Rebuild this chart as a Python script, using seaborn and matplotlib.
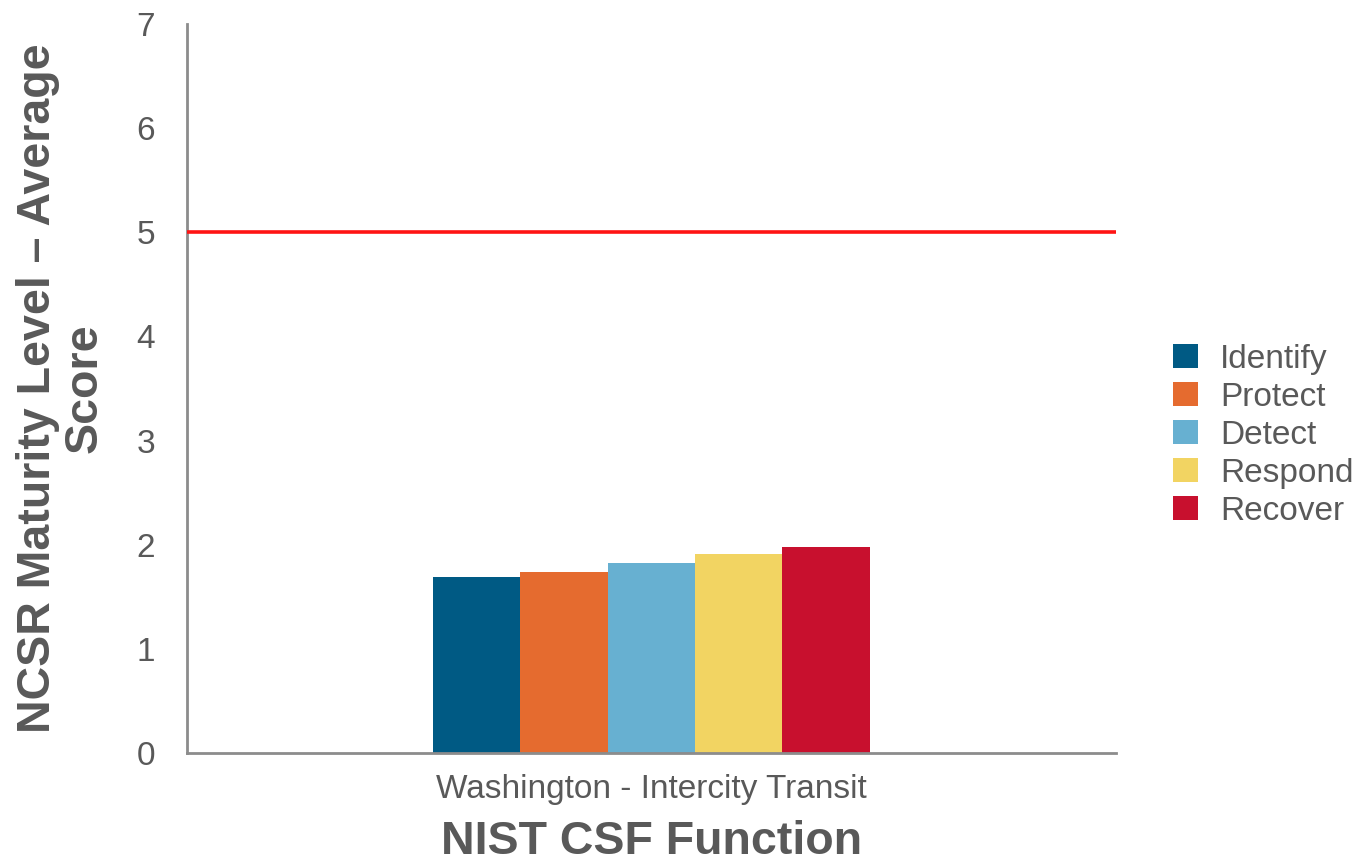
import matplotlib
matplotlib.use("Agg")
import matplotlib.pyplot as plt
import seaborn as sns
import pandas as pd

# Average NCSR maturity scores per NIST CSF function
agency = ["Washington - Intercity Transit"]
functions = ["Identify", "Protect", "Detect", "Respond", "Recover"]
scores = [1.69, 1.74, 1.82, 1.91, 1.98]
target_score = 5
colors = ["#005A84", "#E56B2F", "#67B0D1", "#F2D462", "#C8102E"]
y_ticks = [0, 1, 2, 3, 4, 5, 6, 7]

df = pd.DataFrame({
    "agency": agency * len(functions),
    "function": functions,
    "score": scores,
})

sns.set_theme(style="white")
plt.rcParams["font.family"] = ["Liberation Sans", "DejaVu Sans"]

fig = plt.figure(figsize=(13.55, 8.66), dpi=100)
ax = fig.add_axes([0.138, 0.1305, 0.6856, 0.8418])

sns.barplot(data=df, x="agency", y="score", hue="function",
            hue_order=functions, palette=colors, width=0.47,
            saturation=1, ax=ax, edgecolor="none")

ax.axhline(target_score, color="#FF1414", lw=2.6, zorder=3)

ax.set_xlim(-0.5, 0.5)
ax.set_ylim(0, 7)
ax.set_yticks(y_ticks)
ax.tick_params(axis="both", length=0, labelsize=24, labelcolor="#595959")
ax.tick_params(axis="y", pad=23)
ax.tick_params(axis="x", pad=15)

for side in ["top", "right"]:
    ax.spines[side].set_visible(False)
for side in ["left", "bottom"]:
    ax.spines[side].set_color("#8C8C8C")
    ax.spines[side].set_linewidth(2)

ax.set_xlabel("NIST CSF Function", fontsize=33.5, fontweight="bold",
              color="#595959", labelpad=11)
ax.set_ylabel("NCSR Maturity Level – Average\nScore", fontsize=33.5,
              fontweight="bold", color="#595959", linespacing=1.07)
ax.yaxis.set_label_coords(-0.087, 0.5)

leg = ax.legend(loc="center left", bbox_to_anchor=(1.061, 0.436),
                frameon=False, fontsize=24, handlelength=0.75,
                handleheight=0.75, handletextpad=0.67, labelspacing=0.21,
                borderaxespad=0, borderpad=0)
for t in leg.get_texts():
    t.set_color("#595959")

fig.savefig("out.png", dpi=100)
